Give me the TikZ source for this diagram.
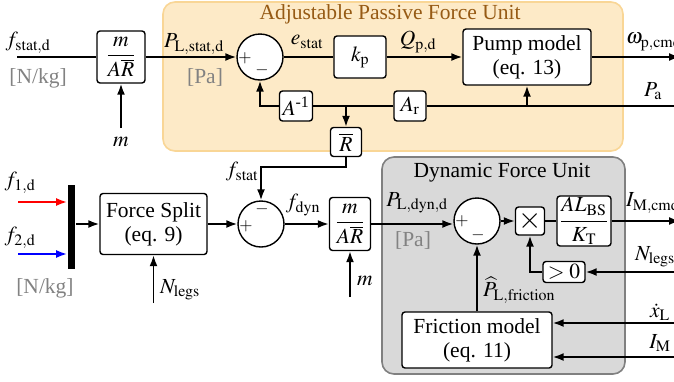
\documentclass[tikz,border=0pt]{standalone}
\usepackage{amsmath}
\usepackage{mathptmx}
\usepackage{fontspec}
\setmainfont{Liberation Serif}
\usetikzlibrary{arrows.meta,positioning,calc}
\definecolor{apfufill}{RGB}{253,234,199}
\definecolor{apfuedge}{RGB}{249,214,150}
\definecolor{apfutext}{RGB}{150,90,20}
\definecolor{dfufill}{RGB}{217,217,217}
\definecolor{dfuedge}{RGB}{128,128,128}
\definecolor{unitgray}{RGB}{130,130,130}

\begin{document}
\begin{tikzpicture}[x=1pt, y=-1pt, line width=1.8pt,
  font=\fontsize{21.5}{24}\selectfont,
  blk/.style={draw, line width=1.4pt, rounded corners=3pt, fill=white, inner sep=0pt, align=center},
  sumc/.style={draw, line width=1.4pt, circle, fill=white, minimum size=46pt, inner sep=0pt},
  sgn/.style={font=\fontsize{17}{17}\selectfont, inner sep=0pt},
  unit/.style={text=unitgray},
  sig/.style={-{Latex[length=11pt,width=8pt]}}]
\useasboundingbox (0,0) rectangle (674,381);

% unit frames
\draw[apfuedge, fill=apfufill, line width=1.6pt, rounded corners=12pt] (163,2) rectangle (623,151);
\node[text=apfutext] (apfu) at (390,14) {Adjustable Passive Force Unit};
\draw[dfuedge, fill=dfufill, line width=1.6pt, rounded corners=12pt] (382,157) rectangle (625,374);
\node (dfu) at (502,173) {Dynamic Force Unit};

% static path
\coordinate (fin) at (17,57);
\node[blk, minimum width=48pt, minimum height=52pt] (gain1) at (121,57) {$\dfrac{m}{A\overline{R}}$};
\coordinate (min1) at (121,128);
\node[sumc] (sum1) at (260,57) {};
\node[blk, minimum width=52pt, minimum height=42pt] (kp) at (360,57) {$k_{\mathrm{p}}$};
\node[blk, minimum width=128pt, minimum height=56pt] (pump) at (527,57) {Pump model\\(eq. 13)};
\coordinate (wout) at (680,57);
\coordinate (pain) at (680,106);
\node[blk, minimum width=32pt, minimum height=30pt] (ar) at (410,106) {$A_{\mathrm{r}}$};
\coordinate (jr) at (346,106);
\node[blk, minimum width=33pt, minimum height=30pt] (ainv) at (296,106) {$A^{\text{-1}}$};
\node[blk, minimum width=31pt, minimum height=29pt] (rbar) at (346,142) {$\overline{R}$};

% dynamic path
\node[fill=black, minimum width=7pt, minimum height=84pt, inner sep=0pt] (mux) at (71.5,227) {};
\coordinate (f1in) at (18,202);
\coordinate (f2in) at (18,254);
\node[blk, minimum width=107pt, minimum height=61pt] (split) at (153.5,224) {Force Split\\(eq. 9)};
\coordinate (nin1) at (153.5,303);
\node[sumc] (sum2) at (261,224) {};
\node[blk, minimum width=41pt, minimum height=53pt] (gain2) at (350,224) {$\dfrac{m}{A\overline{R}}$};
\coordinate (min2) at (350,297);
\node[sumc] (sum3) at (477,221) {};
\node[blk, minimum width=29pt, minimum height=28pt, font=\fontsize{30}{30}\selectfont] (mult) at (530,221) {$\times$};
\node[blk, minimum width=54pt, minimum height=50pt] (gain3) at (584,221) {$\dfrac{AL_{\mathrm{BS}}}{K_{\mathrm{T}}}$};
\coordinate (iout) at (680,221);
\coordinate (nin2) at (680,272);
\node[blk, minimum width=42pt, minimum height=21pt] (pos) at (564,272) {$>0$};
\node[blk, minimum width=150pt, minimum height=56pt] (fric) at (477,340) {Friction model\\(eq. 11)};
\coordinate (xin) at (680,323);
\coordinate (imin) at (680,357);

% connectors
\draw (fin) -- (gain1);
\draw[sig] (min1) -- (gain1);
\draw[sig] (gain1) -- (sum1);
\draw (sum1) -- (kp);
\draw[sig] (kp) -- (pump);
\draw[sig] (pump) -- (wout);
\draw (pain) -- (ar);
\draw (ar) -- (ainv);
\draw[sig] (ainv.west) -| (sum1.south);
\draw[sig] (jr) -- (rbar);
\draw[sig] (pump |- pain) -- (pump);
\draw[sig] (rbar.south) -- ++(0,10) -| (sum2.north);
\draw[red, sig] (f1in) -- (f1in -| mux.west);
\draw[blue, sig] (f2in) -- (f2in -| mux.west);
\draw[sig] (mux.east |- split.west) -- (split.west);
\draw[sig] (nin1) -- (split);
\draw[sig] (split) -- (sum2);
\draw[sig] (sum2) -- (gain2);
\draw[sig] (min2) -- (gain2);
\draw[sig] (gain2.east) -- (gain2.east -| sum3.west);
\draw[sig] (sum3) -- (mult);
\draw (mult) -- (gain3);
\draw[sig] (gain3) -- (iout);
\draw[sig] (nin2) -- (pos);
\draw[sig] (pos.west) -| (mult.south);
\draw[sig] (fric) -- (sum3);
\draw[sig] (xin) -- (xin -| fric.east);
\draw[sig] (imin) -- (imin -| fric.east);

% summing signs
\node[sgn] (s1p) at (245,58) {$+$};
\node[sgn] (s1m) at (262,70) {$-$};
\node[sgn] (s2p) at (246,226) {$+$};
\node[sgn] (s2m) at (262,209) {$-$};
\node[sgn] (s3p) at (462,221) {$+$};
\node[sgn] (s3m) at (478,235) {$-$};

% signal labels
\node (lfstatd) at (28,43) {$f_{\mathrm{stat,d}}$};
\node[unit] (lunit1) at (38,78) {[N/kg]};
\node (lm1) at (121,142) {$m$};
\node (lplstat) at (194,44) {$P_{\mathrm{L,stat,d}}$};
\node[unit] (lpa1) at (205,77) {[Pa]};
\node (lestat) at (307,42) {$e_{\mathrm{stat}}$};
\node (lqpd) at (418,42) {$Q_{\mathrm{p,d}}$};
\node[anchor=west] (lomega) at (622,42) {$\omega_{\mathrm{p,cmd}}$};
\node (lpa) at (653,91) {$P_{\mathrm{a}}$};
\node (lf1) at (20,183) {$f_{1,\mathrm{d}}$};
\node (lf2) at (20,238) {$f_{2,\mathrm{d}}$};
\node[unit] (lunit2) at (45,288) {[N/kg]};
\node (lnlegs1) at (180,290) {$N_{\mathrm{legs}}$};
\node (lfstat) at (242,172) {$f_{\mathrm{stat}}$};
\node (lfdyn) at (303,205) {$f_{\mathrm{dyn}}$};
\node (lm2) at (365,281) {$m$};
\node (lpldyn) at (417,203) {$P_{\mathrm{L,dyn,d}}$};
\node[unit] (lpa2) at (413,240) {[Pa]};
\node[anchor=west] (limcmd) at (622,203) {$I_{\mathrm{M,cmd}}$};
\node (lnlegs2) at (655,257) {$N_{\mathrm{legs}}$};
\node[anchor=west] (lpfric) at (479,290) {$\widehat{P}_{\mathrm{L,friction}}$};
\node (lxdot) at (660,312) {$\dot{x}_{\mathrm{L}}$};
\node (lim) at (660,343) {$I_{\mathrm{M}}$};
\end{tikzpicture}
\end{document}
